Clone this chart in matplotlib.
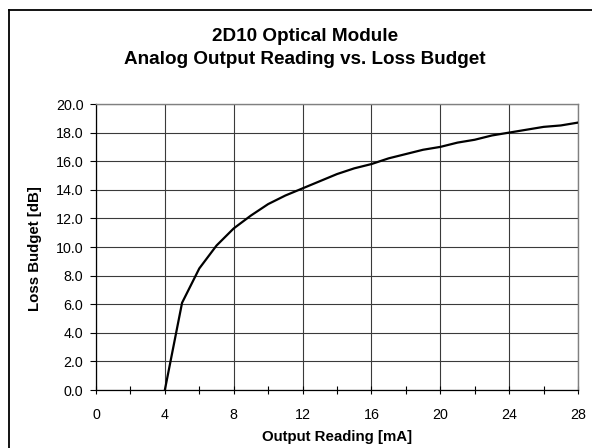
import numpy as np
import matplotlib
matplotlib.use("Agg")
import matplotlib.pyplot as plt
from matplotlib.lines import Line2D

plt.rcParams['font.family'] = ['Liberation Sans', 'DejaVu Sans']

# Output reading [mA] vs loss budget [dB]
output_ma = [4, 5, 6, 7, 8, 9, 10, 11, 12, 13, 14, 15, 16, 17, 18, 19, 20,
             21, 22, 23, 24, 25, 26, 27, 28]
loss_db = [0.0, 6.1, 8.5, 10.1, 11.3, 12.2, 13.0, 13.6, 14.1, 14.6, 15.1,
           15.5, 15.8, 16.2, 16.5, 16.8, 17.0, 17.3, 17.5, 17.8, 18.0, 18.2,
           18.4, 18.5, 18.7]

x_major = [0, 4, 8, 12, 16, 20, 24, 28]
x_minor = [2, 6, 10, 14, 18, 22, 26]
y_major = np.arange(0, 20.1, 2.0)

title = "2D10 Optical Module\nAnalog Output Reading vs. Loss Budget"

W, H = 592, 448
fig = plt.figure(figsize=(W / 100, H / 100), dpi=100)
ax = fig.add_axes([96 / W, 1 - 390 / H, (578 - 96) / W, (390 - 104) / H])

# outer chart border (left and top edges visible)
fig.add_artist(Line2D([9 / W, 9 / W], [0, 1 - 10 / H], transform=fig.transFigure,
                      color='black', lw=1.3))
fig.add_artist(Line2D([9 / W, 1], [1 - 10 / H, 1 - 10 / H], transform=fig.transFigure,
                      color='black', lw=1.3))

ax.plot(output_ma, loss_db, color='black', lw=1.6, zorder=3)

ax.set_xlim(0, 28)
ax.set_ylim(0, 20)
ax.set_xticks(x_major)
ax.set_xticks(x_minor, minor=True)
ax.set_yticks(y_major)
ax.set_yticklabels([f"{v:.1f}" for v in y_major])

ax.grid(True, which='major', color='#3a3a3a', lw=0.8)
ax.set_axisbelow(True)

ax.tick_params(axis='x', which='both', direction='inout', length=6, width=0.8,
               labelsize=10.3, pad=10)
ax.tick_params(axis='y', which='major', direction='out', length=4, width=0.8,
               labelsize=10.3, pad=5)

for s in ['top', 'right']:
    ax.spines[s].set_color('#808080')
    ax.spines[s].set_linewidth(1.0)
for s in ['left', 'bottom']:
    ax.spines[s].set_color('black')
    ax.spines[s].set_linewidth(0.9)

fig.text(305 / W, 1 - 48 / H, title, ha='center', va='center',
         fontsize=13.6, fontweight='bold', linespacing=1.45)
fig.text(35 / W, 1 - 249 / H, "Loss Budget [dB]", rotation=90, ha='center',
         va='center', fontsize=10.8, fontweight='bold')
fig.text(337 / W, 1 - 437 / H, "Output Reading [mA]", ha='center', va='center',
         fontsize=10.8, fontweight='bold')

fig.savefig("out.png", dpi=100)
